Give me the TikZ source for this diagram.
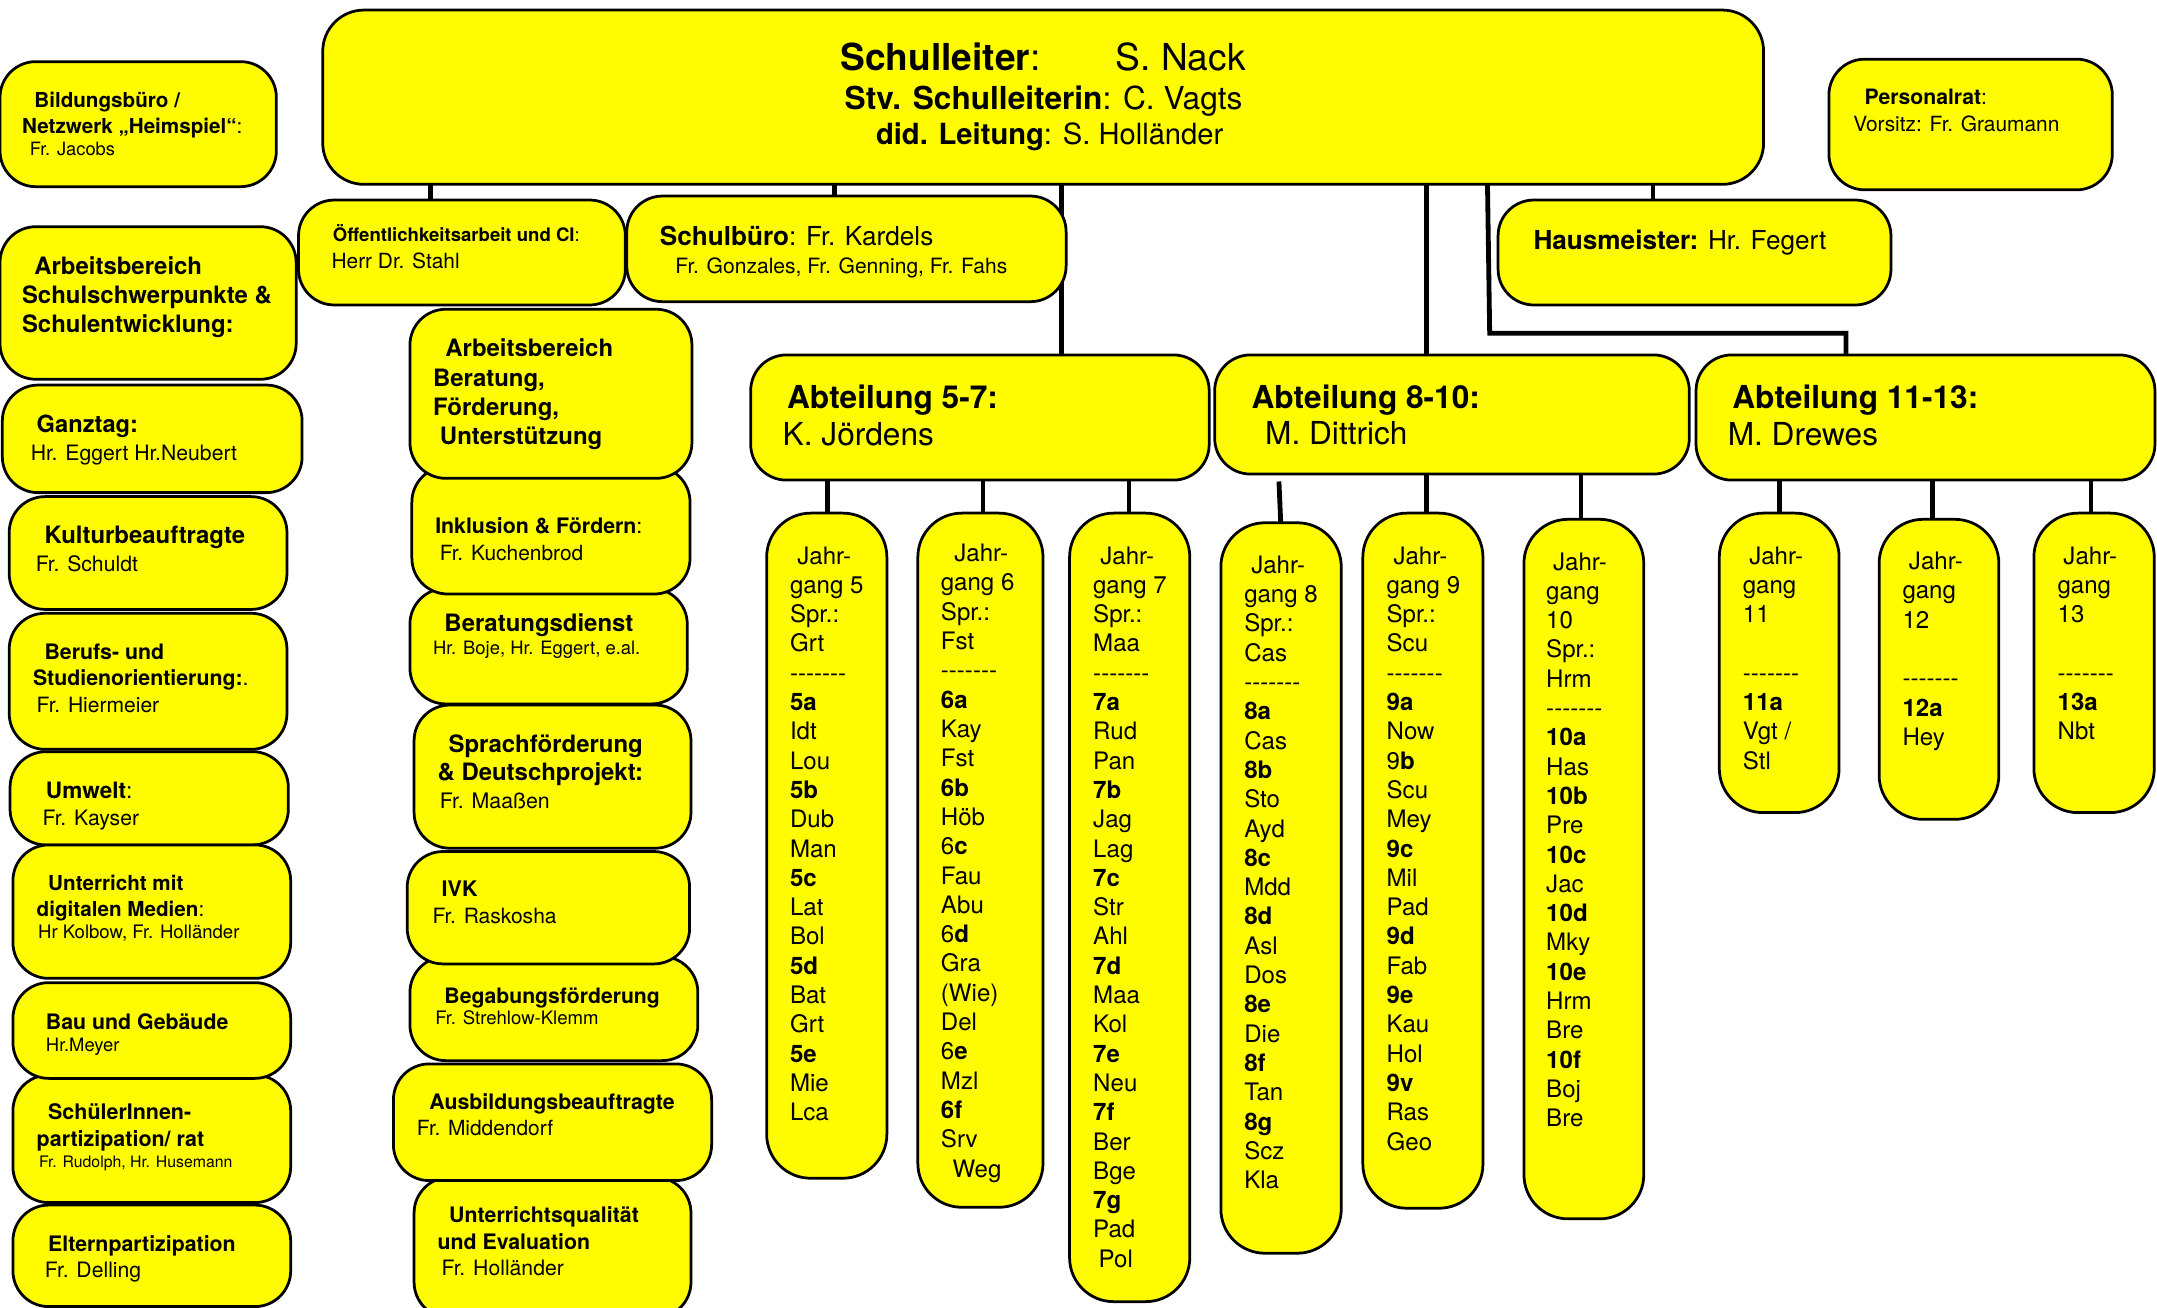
\documentclass[tikz,border=0pt]{standalone}
\usepackage{fontspec}
\setmainfont{TeX Gyre Heros}
\pgfdeclarelayer{background}
\pgfsetlayers{background,main}
\definecolor{yel}{RGB}{255,251,0}
\tikzset{
  box/.style={draw=black, line width=2pt, fill=yel, rounded corners=#1, inner sep=0pt, outer sep=0pt},
  box/.default=26pt,
  conn/.style={line width=3.5pt},
  txt/.style={anchor=base west, inner sep=0pt, outer sep=0pt},
  col/.style={anchor=base west, inner sep=0pt, outer sep=0pt, align=left, font=\fontsize{17.5}{21.3}\selectfont},
}
\newcommand{\ybox}[6][26pt]{\node[box=#1, minimum width={(#4-#2)*1pt}, minimum height={(#5-#3)*1pt}] (#6) at ({(#2+#4)/2},{(#3+#5)/2}) {};}
\newcommand{\tline}[5]{\node[txt, font=\fontsize{#4}{#4}\selectfont] (#1) at (#2,#3) {#5};}
\newcommand{\dashes}{\mbox{-}\mbox{-}\mbox{-}\mbox{-}\mbox{-}\mbox{-}\mbox{-}}
\begin{document}
\begin{tikzpicture}[x=1pt, y=-1pt]
\useasboundingbox (0,0) rectangle (1568,950.8);

% ---------- top row ----------
\ybox[30pt]{234.6}{7.3}{1282}{134}{sl}
\ybox{0}{44.8}{200.9}{135.7}{bb}
\ybox{1329.5}{43}{1535.5}{138}{pr}
\ybox{217}{145.4}{454.6}{221.7}{oe}
\ybox{455.6}{142.5}{775}{219.3}{sb}
\ybox{1089}{145.4}{1374.6}{221.7}{hm}

% ---------- Abteilungen ----------
\ybox{545.7}{258}{879}{349}{a57}
\ybox{883}{258}{1228}{344.6}{a810}
\ybox{1232.9}{258}{1566.5}{349}{a1113}

% ---------- Jahrgaenge ----------
\ybox[32pt]{557.3}{373}{644.7}{856.5}{j5}
\ybox[32pt]{667.2}{373}{758.2}{877.6}{j6}
\ybox[32pt]{777.5}{373}{864.9}{946.2}{j7}
\ybox[32pt]{887.5}{380}{975}{911}{j8}
\ybox[32pt]{990.7}{373}{1078}{878.3}{j9}
\ybox[32pt]{1107.8}{377.5}{1194.9}{886}{j10}
\ybox[32pt]{1249.8}{373}{1336.9}{590.7}{j11}
\ybox[32pt]{1366}{377.5}{1453}{595.6}{j12}
\ybox[32pt]{1478.5}{373}{1566}{590.7}{j13}

% ---------- left column ----------
\ybox{9.4}{876}{211.3}{949.8}{ep}
\ybox{9.4}{781.4}{211.3}{874.2}{sp}
\ybox{9.4}{714.3}{211.3}{783.9}{bg}
\ybox{7.3}{546.4}{209.6}{614.2}{uw}
\ybox{9.4}{614.2}{211.3}{711.2}{ud}
\ybox{6.7}{445.8}{208.6}{544.7}{bs}
\ybox{6.7}{361}{208.6}{443}{kb}
\ybox{1.7}{279.9}{219.6}{358.1}{gt}
\ybox{0}{164.8}{215.3}{275.7}{as}

% ---------- middle column ----------
\ybox{301}{855.8}{502.3}{958}{uq}
\ybox{286}{773.4}{517.3}{858.2}{ba}
\ybox{298}{695.4}{507.3}{771}{bf}
\ybox{296}{619}{501.3}{700.7}{ivk}
\ybox{301}{512.5}{502.3}{616.6}{sf}
\ybox{298}{427.7}{499.6}{511.7}{bd}
\ybox{299.4}{339}{501.6}{431.8}{ik}
\ybox{298}{224.8}{503}{347.7}{ab}

% ---------- connectors ----------
\begin{pgfonlayer}{background}
\fill[white] (0,0) rectangle (1568,950.8);
\coordinate (xoe) at (312.7,0);
\coordinate (xsb) at (606.5,0);
\coordinate (xhm) at (1201.6,0);
\coordinate (xa57) at (771.5,0);
\coordinate (xa810) at (1037,0);
\coordinate (xa1113) at (1081.3,0);
\coordinate (k1) at (1082.9,242.3);
\coordinate (k2) at (1341.9,242.3);
\coordinate (xj5) at (601.3,0);
\coordinate (xj6) at (714.6,0);
\coordinate (xj7) at (820.7,0);
\coordinate (j8s) at (929.7,350);
\coordinate (xj8) at (931,0);
\coordinate (xj9) at (1037,0);
\coordinate (xj10) at (1149.3,0);
\coordinate (xj11) at (1293.6,0);
\coordinate (xj12) at (1404.8,0);
\coordinate (xj13) at (1520,0);
\draw[conn] (sl.south -| xoe) -- (oe.north -| xoe);
\draw[conn] (sl.south -| xsb) -- (sb.north -| xsb);
\draw[conn] (sl.south -| xhm) -- (hm.north -| xhm);
\draw[conn] (sl.south -| xa57) -- (a57.north -| xa57);
\draw[conn] (sl.south -| xa810) -- (a810.north -| xa810);
\draw[conn] (sl.south -| xa1113) -- (k1) -- (k2) -- (a1113.north -| k2);
\draw[conn] (a57.south -| xj5) -- (j5.north -| xj5);
\draw[conn] (a57.south -| xj6) -- (j6.north -| xj6);
\draw[conn] (a57.south -| xj7) -- (j7.north -| xj7);
\draw[conn] (j8s) -- (j8.north -| xj8);
\draw[conn] (a810.south -| xj9) -- (j9.north -| xj9);
\draw[conn] (a810.south -| xj10) -- (j10.north -| xj10);
\draw[conn] (a1113.south -| xj11) -- (j11.north -| xj11);
\draw[conn] (a1113.south -| xj12) -- (j12.north -| xj12);
\draw[conn] (a1113.south -| xj13) -- (j13.north -| xj13);
\end{pgfonlayer}

% ---------- texts: top ----------
\tline{sl1}{611}{50.9}{27}{\textbf{Schulleiter}:\hspace{54.6pt}S. Nack}
\tline{sl2}{614}{79.5}{23}{\textbf{Stv. Schulleiterin}: C. Vagts}
\tline{sl3}{636.8}{105.4}{21.2}{\textbf{did. Leitung}: S. Holländer}
\tline{bb1}{25}{78}{15}{\textbf{Bildungsbüro /}}
\tline{bb2}{16}{96.9}{15}{\textbf{Netzwerk „Heimspiel“}:}
\tline{bb3}{21.7}{113.2}{13.3}{Fr. Jacobs}
\tline{pr1}{1355.4}{76.3}{15.4}{\textbf{Personalrat}:}
\tline{pr2}{1347.2}{95.7}{15.2}{Vorsitz: Fr. Graumann}
\tline{oe1}{242}{175.7}{13.5}{\textbf{Öffentlichkeitsarbeit und CI}:}
\tline{oe2}{241}{195}{15.2}{Herr Dr. Stahl}
\tline{sb1}{479.7}{178.1}{19}{\textbf{Schulbüro}: Fr. Kardels}
\tline{sb2}{491}{198.7}{15.3}{Fr. Gonzales, Fr. Genning, Fr. Fahs}
\tline{hm1}{1114.8}{181.2}{19}{\textbf{Hausmeister:} Hr. Fegert}

% ---------- texts: Abteilungen ----------
\tline{a571}{572.2}{296.8}{23}{\textbf{Abteilung 5-7:}}
\tline{a572}{569}{324.2}{23}{K. Jördens}
\tline{a8101}{909.8}{296.8}{23}{\textbf{Abteilung 8-10:}}
\tline{a8102}{919.7}{322.8}{23}{M. Dittrich}
\tline{a11131}{1259.3}{296.8}{23}{\textbf{Abteilung 11-13:}}
\tline{a11132}{1256}{323.5}{23}{M. Drewes}

% ---------- texts: left column ----------
\tline{as1}{25}{199.2}{17.4}{\textbf{Arbeitsbereich}}
\tline{as2}{16}{220.5}{17.4}{\textbf{Schulschwerpunkte \&}}
\tline{as3}{16}{241.6}{17.4}{\textbf{Schulentwicklung:}}
\tline{gt1}{26.7}{314.6}{17.2}{\textbf{Ganztag:}}
\tline{gt2}{22.4}{334.4}{15.4}{Hr. Eggert Hr.Neubert}
\tline{kb1}{32.4}{395}{17.4}{\textbf{Kulturbeauftragte}}
\tline{kb2}{26}{415.6}{15.4}{Fr. Schuldt}
\tline{bs1}{32.4}{479.3}{15.5}{\textbf{Berufs- und}}
\tline{bs2}{24}{498}{15.5}{\textbf{Studienorientierung:}.}
\tline{bs3}{26.7}{518.1}{15.3}{Fr. Hiermeier}
\tline{uw1}{33.4}{580.4}{16.4}{\textbf{Umwelt}:}
\tline{uw2}{31}{599.8}{15.4}{Fr. Kayser}
\tline{ud1}{35}{647}{15}{\textbf{Unterricht mit}}
\tline{ud2}{26.7}{666.4}{15}{\textbf{digitalen Medien}:}
\tline{ud3}{27.7}{682.1}{13.5}{Hr Kolbow, Fr. Holländer}
\tline{bg1}{33.4}{748.3}{15.5}{\textbf{Bau und Gebäude}}
\tline{bg2}{33.4}{764.1}{13.4}{Hr.Meyer}
\tline{sp1}{35}{813.7}{15.6}{\textbf{SchülerInnen-}}
\tline{sp2}{26.7}{833.1}{15.6}{\textbf{partizipation/ rat}}
\tline{sp3}{28.4}{848.6}{11.5}{Fr. Rudolph, Hr. Husemann}
\tline{ep1}{35}{910}{15.5}{\textbf{Elternpartizipation}}
\tline{ep2}{32.7}{928.6}{15.4}{Fr. Delling}

% ---------- texts: middle column ----------
\tline{ab1}{323.8}{259.3}{17.4}{\textbf{Arbeitsbereich}}
\tline{ab2}{314.8}{280.6}{17.4}{\textbf{Beratung,}}
\tline{ab3}{314.8}{301.7}{17.4}{\textbf{Förderung,}}
\tline{ab4}{319.8}{322.8}{17.4}{\textbf{Unterstützung}}
\tline{ik1}{316.4}{387.7}{15.5}{\textbf{Inklusion \& Fördern}:}
\tline{ik2}{319.8}{407.6}{15.2}{Fr. Kuchenbrod}
\tline{bd1}{323.1}{458.7}{17.4}{\textbf{Beratungsdienst}}
\tline{bd2}{314.8}{475.7}{13.4}{Hr. Boje, Hr. Eggert, e.al.}
\tline{sf1}{326.1}{547.2}{17.4}{\textbf{Sprachförderung}}
\tline{sf2}{318.1}{567.6}{17.4}{\textbf{\& Deutschprojekt:}}
\tline{sf3}{319.8}{587.6}{15.5}{Fr. Maaßen}
\tline{ivk1}{321.1}{651.9}{15.6}{\textbf{IVK}}
\tline{ivk2}{314.4}{671.3}{15.3}{Fr. Raskosha}
\tline{bf1}{323.1}{729.4}{15.4}{\textbf{Begabungsförderung}}
\tline{bf2}{316.4}{744.7}{13.5}{Fr. Strehlow-Klemm}
\tline{ba1}{312.1}{806.5}{15.5}{\textbf{Ausbildungsbeauftragte}}
\tline{ba2}{303.1}{825.1}{15.2}{Fr. Middendorf}
\tline{uq1}{326.5}{888.9}{15.5}{\textbf{Unterrichtsqualität}}
\tline{uq2}{318.1}{908}{15.5}{\textbf{und Evaluation}}
\tline{uq3}{321.1}{926.9}{15.4}{Fr. Holländer}

% ---------- texts: Jahrgang columns (base = last line) ----------
\node[col] (j5t) at (574.3,814.7) {\hspace*{5.3pt}Jahr-\\gang 5\\Spr.:\\Grt\\\dashes\\\textbf{5a}\\Idt\\Lou\\\textbf{5b}\\Dub\\Man\\\textbf{5c}\\Lat\\Bol\\\textbf{5d}\\Bat\\Grt\\\textbf{5e}\\Mie\\Lca};
\node[col] (j6t) at (684,855.6) {\hspace*{9.8pt}Jahr-\\gang 6\\Spr.:\\Fst\\\dashes\\\textbf{6a}\\Kay\\Fst\\\textbf{6b}\\Höb\\6\textbf{c}\\Fau\\Abu\\6\textbf{d}\\Gra\\(Wie)\\Del\\6\textbf{e}\\Mzl\\\textbf{6f}\\Srv\\\hspace*{8.5pt}Weg};
\node[col] (j7t) at (794.7,921.2) {\hspace*{5.2pt}Jahr-\\gang 7\\Spr.:\\Maa\\\dashes\\\textbf{7a}\\Rud\\Pan\\\textbf{7b}\\Jag\\Lag\\\textbf{7c}\\Str\\Ahl\\\textbf{7d}\\Maa\\Kol\\\textbf{7e}\\Neu\\\textbf{7f}\\Ber\\Bge\\\textbf{7g}\\Pad\\\hspace*{4pt}Pol};
\node[col] (j8t) at (904.5,864.1) {\hspace*{5.1pt}Jahr-\\gang 8\\Spr.:\\Cas\\\dashes\\\textbf{8a}\\Cas\\\textbf{8b}\\Sto\\Ayd\\\textbf{8c}\\Mdd\\\textbf{8d}\\Asl\\Dos\\\textbf{8e}\\Die\\\textbf{8f}\\Tan\\\textbf{8g}\\Scz\\Kla};
\node[col] (j9t) at (1008,836) {\hspace*{5pt}Jahr-\\gang 9\\Spr.:\\Scu\\\dashes\\\textbf{9a}\\Now\\9\textbf{b}\\Scu\\Mey\\\textbf{9c}\\Mil\\Pad\\\textbf{9d}\\Fab\\\textbf{9e}\\Kau\\Hol\\\textbf{9v}\\Ras\\Geo};
\node[col] (j10t) at (1124,819.1) {\hspace*{5pt}Jahr-\\gang\\10\\Spr.:\\Hrm\\\dashes\\\textbf{10a}\\Has\\\textbf{10b}\\Pre\\\textbf{10c}\\Jac\\\textbf{10d}\\Mky\\\textbf{10e}\\Hrm\\Bre\\\textbf{10f}\\Boj\\Bre};
\node[col] (j11t) at (1267,559.1) {\hspace*{4.6pt}Jahr-\\gang\\11\\[21.3pt]\dashes\\\textbf{11a}\\Vgt /\\Stl};
\node[col] (j12t) at (1383,541.8) {\hspace*{4.7pt}Jahr-\\gang\\12\\[21.3pt]\dashes\\\textbf{12a}\\Hey};
\node[col] (j13t) at (1495.8,537.8) {\hspace*{4.2pt}Jahr-\\gang\\13\\[21.3pt]\dashes\\\textbf{13a}\\Nbt};
\end{tikzpicture}
\end{document}
